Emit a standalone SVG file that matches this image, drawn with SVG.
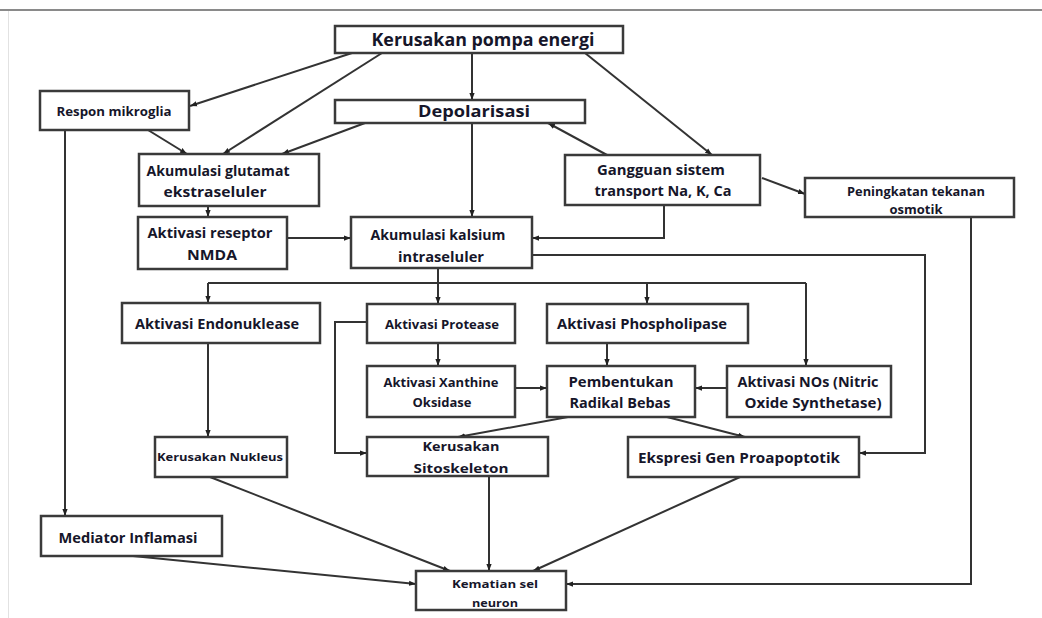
<svg xmlns="http://www.w3.org/2000/svg" width="1042" height="618" viewBox="0 0 1042 618">
<defs>
<marker id="ah" viewBox="0 0 8 8" refX="8" refY="4" markerWidth="7" markerHeight="7" markerUnits="userSpaceOnUse" orient="auto">
<path d="M0,1 L8,4 L0,7 z" fill="#222"/>
</marker>
<style>
.box{fill:#fff;stroke:#3a3a3a;stroke-width:2.5}
.t{font-family:"Open Sans","Liberation Sans",sans-serif;font-weight:700;fill:#16162a;text-anchor:middle}
.c{fill:none;stroke:#333;stroke-width:2}
.a{marker-end:url(#ah)}
</style>
</defs>
<rect width="1042" height="618" fill="#fff"/>
<line x1="0" y1="10" x2="1042" y2="10" stroke="#8a8a8a" stroke-width="2"/>
<line x1="8.5" y1="11" x2="8.5" y2="618" stroke="#e2e2e2" stroke-width="1"/>

<g id="connectors">
<path class="c a" d="M352,53 L190,106"/>
<path class="c a" d="M382,53 L223,154"/>
<path class="c a" d="M472,53 L472,100"/>
<path class="c a" d="M585,53 L712,155"/>
<path class="c a" d="M365,123 L282,154"/>
<path class="c a" d="M148,130 L187,154"/>
<path class="c a" d="M65,130 L65,516"/>
<path class="c a" d="M472,123 L472,217"/>
<path class="c a" d="M607,155 L548,123"/>
<path class="c a" d="M762,178 L805,194"/>
<path class="c a" d="M664,205 L664,238 L532,238"/>
<path class="c a" d="M208,206 L208,217"/>
<path class="c a" d="M287,238 L351,238"/>
<path class="c a" d="M532,255 L925,255 L925,453 L859,453"/>
<path class="c" d="M438,268 L438,283"/>
<path class="c" d="M208,283 L806,283"/>
<path class="c a" d="M208,283 L208,303"/>
<path class="c a" d="M438,283 L438,304"/>
<path class="c a" d="M647,283 L647,304"/>
<path class="c a" d="M806,283 L806,366"/>
<path class="c a" d="M438,343 L438,366"/>
<path class="c a" d="M367,322 L335,322 L335,453 L367,453"/>
<path class="c a" d="M607,343 L607,366"/>
<path class="c a" d="M515,388 L547,388"/>
<path class="c a" d="M727,388 L695,388"/>
<path class="c a" d="M568,417 L458,437"/>
<path class="c a" d="M667,417 L745,437"/>
<path class="c a" d="M208,343 L208,437"/>
<path class="c a" d="M210,477 L450,571"/>
<path class="c a" d="M489,476 L489,571"/>
<path class="c a" d="M740,477 L533,571"/>
<path class="c a" d="M133,556 L416,584"/>
<path class="c a" d="M971,217 L971,584 L566,584"/>
</g>

<g id="n-pompa"><rect class="box" x="335" y="26" width="288" height="27"/><text class="t" x="483" y="46" font-size="17" textLength="223" lengthAdjust="spacingAndGlyphs">Kerusakan pompa energi</text></g>
<g id="n-mikroglia"><rect class="box" x="40" y="91" width="149" height="39"/><text class="t" x="114" y="116" font-size="12" textLength="115" lengthAdjust="spacingAndGlyphs">Respon mikroglia</text></g>
<g id="n-depol"><rect class="box" x="335" y="100" width="250" height="23"/><text class="t" x="474" y="117" font-size="16" textLength="112" lengthAdjust="spacingAndGlyphs">Depolarisasi</text></g>
<g id="n-glutamat"><rect class="box" x="139" y="154" width="180" height="52"/><text class="t" x="218" y="176" font-size="13.5" textLength="143" lengthAdjust="spacingAndGlyphs">Akumulasi glutamat</text><text class="t" x="215" y="197" font-size="13.5" textLength="103" lengthAdjust="spacingAndGlyphs">ekstraseluler</text></g>
<g id="n-gangguan"><rect class="box" x="565" y="155" width="195" height="50"/><text class="t" x="661" y="175" font-size="13.5" textLength="128" lengthAdjust="spacingAndGlyphs">Gangguan sistem</text><text class="t" x="663" y="196" font-size="13.5" textLength="137" lengthAdjust="spacingAndGlyphs">transport Na, K, Ca</text></g>
<g id="n-osmotik"><rect class="box" x="805" y="178" width="209" height="39"/><text class="t" x="916" y="196" font-size="11.5" textLength="138" lengthAdjust="spacingAndGlyphs">Peningkatan tekanan</text><text class="t" x="916" y="214" font-size="11.5" textLength="53" lengthAdjust="spacingAndGlyphs">osmotik</text></g>
<g id="n-nmda"><rect class="box" x="138" y="217" width="149" height="52"/><text class="t" x="210" y="238" font-size="13.5" textLength="125" lengthAdjust="spacingAndGlyphs">Aktivasi reseptor</text><text class="t" x="212" y="260" font-size="13.5" textLength="50" lengthAdjust="spacingAndGlyphs">NMDA</text></g>
<g id="n-kalsium"><rect class="box" x="351" y="217" width="181" height="51"/><text class="t" x="438" y="240" font-size="13.5" textLength="135" lengthAdjust="spacingAndGlyphs">Akumulasi kalsium</text><text class="t" x="441" y="262" font-size="13.5" textLength="86" lengthAdjust="spacingAndGlyphs">intraseluler</text></g>
<g id="n-endo"><rect class="box" x="122" y="303" width="198" height="40"/><text class="t" x="217" y="329" font-size="13.5" textLength="164" lengthAdjust="spacingAndGlyphs">Aktivasi Endonuklease</text></g>
<g id="n-protease"><rect class="box" x="367" y="304" width="148" height="39"/><text class="t" x="442" y="329" font-size="12" textLength="114" lengthAdjust="spacingAndGlyphs">Aktivasi Protease</text></g>
<g id="n-phospho"><rect class="box" x="547" y="304" width="201" height="39"/><text class="t" x="642" y="329" font-size="14" textLength="170" lengthAdjust="spacingAndGlyphs">Aktivasi Phospholipase</text></g>
<g id="n-xanthine"><rect class="box" x="367" y="366" width="148" height="51"/><text class="t" x="441" y="387" font-size="12" textLength="115" lengthAdjust="spacingAndGlyphs">Aktivasi Xanthine</text><text class="t" x="442" y="407" font-size="12" textLength="59" lengthAdjust="spacingAndGlyphs">Oksidase</text></g>
<g id="n-radikal"><rect class="box" x="547" y="366" width="148" height="51"/><text class="t" x="621" y="387" font-size="14" textLength="105" lengthAdjust="spacingAndGlyphs">Pembentukan</text><text class="t" x="620" y="408" font-size="14" textLength="101" lengthAdjust="spacingAndGlyphs">Radikal Bebas</text></g>
<g id="n-nos"><rect class="box" x="727" y="366" width="164" height="51"/><text class="t" x="808" y="387" font-size="14" textLength="141" lengthAdjust="spacingAndGlyphs">Aktivasi NOs (Nitric</text><text class="t" x="813" y="408" font-size="14" textLength="137" lengthAdjust="spacingAndGlyphs">Oxide Synthetase)</text></g>
<g id="n-nukleus"><rect class="box" x="155" y="437" width="132" height="40"/><text class="t" x="220" y="461" font-size="11" textLength="126" lengthAdjust="spacingAndGlyphs">Kerusakan Nukleus</text></g>
<g id="n-sitoskeleton"><rect class="box" x="367" y="437" width="181" height="39"/><text class="t" x="461" y="451" font-size="13" textLength="77" lengthAdjust="spacingAndGlyphs">Kerusakan</text><text class="t" x="461" y="473" font-size="13" textLength="95" lengthAdjust="spacingAndGlyphs">Sitoskeleton</text></g>
<g id="n-ekspresi"><rect class="box" x="628" y="437" width="231" height="40"/><text class="t" x="739" y="463" font-size="14" textLength="202" lengthAdjust="spacingAndGlyphs">Ekspresi Gen Proapoptotik</text></g>
<g id="n-mediator"><rect class="box" x="41" y="516" width="181" height="40"/><text class="t" x="128" y="543" font-size="13.5" textLength="139" lengthAdjust="spacingAndGlyphs">Mediator Inflamasi</text></g>
<g id="n-kematian"><rect class="box" x="416" y="571" width="150" height="39"/><text class="t" x="495" y="588" font-size="11" textLength="86" lengthAdjust="spacingAndGlyphs">Kematian sel</text><text class="t" x="495" y="607" font-size="11" textLength="46" lengthAdjust="spacingAndGlyphs">neuron</text></g>
</svg>
